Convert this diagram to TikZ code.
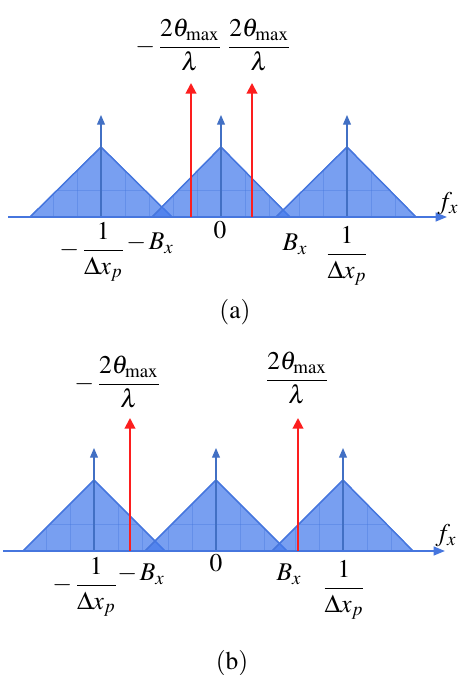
\documentclass[tikz,border=0pt]{standalone}
\usepackage{amsmath}
\usepackage{mathptmx}
\usetikzlibrary{arrows.meta, positioning}
\definecolor{triblue}{RGB}{68,122,235}
\definecolor{edgeblue}{RGB}{70,118,222}
\definecolor{stemblue}{RGB}{66,112,196}
\definecolor{peakred}{RGB}{252,30,30}
\tikzstyle{tri}=[fill=triblue, fill opacity=0.72, draw=edgeblue, line width=0.7pt]
\tikzstyle{gridln}=[draw=edgeblue, draw opacity=0.4, line width=0.4pt]
\tikzstyle{stem}=[-{Triangle[length=5.5pt,width=4.5pt]}, stemblue, line width=0.7pt]
\tikzstyle{rarr}=[-{Triangle[length=6pt,width=6pt]}, peakred, line width=1.1pt]
\tikzstyle{axis}=[-{Triangle[length=6.5pt,width=5pt]}, edgeblue, line width=1.1pt]
\tikzstyle{lbl}=[inner sep=0pt, font=\fontsize{14.5}{17}\selectfont]

\begin{document}
\begin{tikzpicture}[x=0.02cm, y=-0.02cm]
  \useasboundingbox (0,0) rectangle (460,675);

  % panel (a)
  \foreach \l/\c/\r in {30/101/172, 152/221/290, 276/347/416} {
    \fill[tri] (\l,217) -- (\c,147) -- (\r,217) -- cycle;
    \begin{scope}
      \clip (\l,217) -- (\c,147) -- (\r,217) -- cycle;
      \foreach \d in {-48,-24,24,48} \draw[gridln] (\c+\d,147) -- (\c+\d,217);
      \draw[gridln] (\l,190) -- (\r,190);
    \end{scope}
    \draw[tri, fill=none] (\l,217) -- (\c,147) -- (\r,217);
  }
  \coordinate (sa1) at (101,217); \coordinate (ta1) at (101,115);
  \coordinate (sa2) at (221,217); \coordinate (ta2) at (221,115);
  \coordinate (sa3) at (347,217); \coordinate (ta3) at (347,115);
  \draw[stem] (sa1) -- (ta1);
  \draw[stem] (sa2) -- (ta2);
  \draw[stem] (sa3) -- (ta3);
  \coordinate (xa0) at (8,217); \coordinate (xa1) at (447,217);
  \draw[axis] (xa0) -- (xa1);
  \coordinate (ra1) at (191,217); \coordinate (rt1) at (191,83);
  \coordinate (ra2) at (252,217); \coordinate (rt2) at (252,83);
  \draw[rarr] (ra1) -- (rt1);
  \draw[rarr] (ra2) -- (rt2);

  \node[lbl, anchor=east] (na1) at (222,45) {$-\,\dfrac{2\theta_{\max}}{\lambda}$};
  \node[lbl, anchor=west] (na2) at (227,45) {$\dfrac{2\theta_{\max}}{\lambda}$};
  \node[lbl] (fa)  at (448,204) {$f_x$};
  \node[lbl] (za)  at (220,230) {$0$};
  \node[lbl] (pa1) at (92,252) {$-\,\dfrac{1}{\Delta x_p}$};
  \node[lbl] (ba1) at (150,243) {$-\,B_x$};
  \node[lbl] (ba2) at (295,244) {$B_x$};
  \node[lbl] (pa2) at (347,256) {$\dfrac{1}{\Delta x_p}$};
  \node[lbl] (capa) at (235,312) {$(\mathrm{a})$};

  % panel (b)
  \foreach \l/\c/\r in {23/94/165, 145/216/287, 272/343/413} {
    \fill[tri] (\l,551) -- (\c,480) -- (\r,551) -- cycle;
    \begin{scope}
      \clip (\l,551) -- (\c,480) -- (\r,551) -- cycle;
      \foreach \d in {-48,-24,24,48} \draw[gridln] (\c+\d,480) -- (\c+\d,551);
      \draw[gridln] (\l,524) -- (\r,524);
    \end{scope}
    \draw[tri, fill=none] (\l,551) -- (\c,480) -- (\r,551);
  }
  \coordinate (sb1) at (94,551);  \coordinate (tb1) at (94,448);
  \coordinate (sb2) at (216,551); \coordinate (tb2) at (216,448);
  \coordinate (sb3) at (343,551); \coordinate (tb3) at (343,448);
  \draw[stem] (sb1) -- (tb1);
  \draw[stem] (sb2) -- (tb2);
  \draw[stem] (sb3) -- (tb3);
  \coordinate (xb0) at (3,551); \coordinate (xb1) at (445,551);
  \draw[axis] (xb0) -- (xb1);
  \coordinate (rb1) at (130,551); \coordinate (rs1) at (130,418);
  \coordinate (rb2) at (298,551); \coordinate (rs2) at (298,418);
  \draw[rarr] (rb1) -- (rs1);
  \draw[rarr] (rb2) -- (rs2);

  \node[lbl, anchor=east] (nb1) at (161,382) {$-\,\dfrac{2\theta_{\max}}{\lambda}$};
  \node[lbl] (nb2) at (297,378) {$\dfrac{2\theta_{\max}}{\lambda}$};
  \node[lbl] (fb)  at (446,536) {$f_x$};
  \node[lbl] (zb)  at (216,563) {$0$};
  \node[lbl] (pb1) at (85,587) {$-\,\dfrac{1}{\Delta x_p}$};
  \node[lbl] (bb1) at (141,574) {$-\,B_x$};
  \node[lbl] (bb2) at (289,574) {$B_x$};
  \node[lbl] (pb2) at (344,590) {$\dfrac{1}{\Delta x_p}$};
  \node[lbl] (capb) at (232,663) {$(\mathrm{b})$};
\end{tikzpicture}
\end{document}
